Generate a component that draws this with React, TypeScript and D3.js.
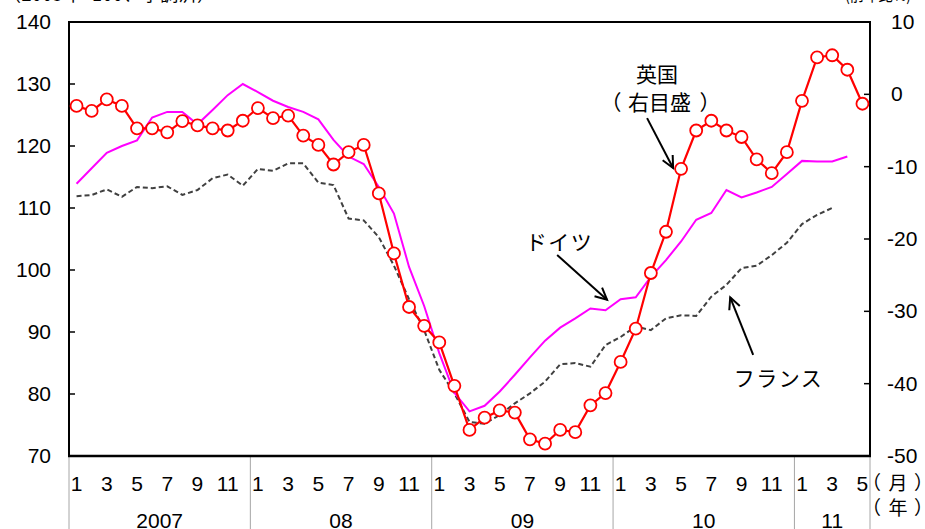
import React from 'react';
import * as d3 from 'd3';

const N_MONTHS = 53;
const yearLabels = ['2007', '08', '09', '10', '11'];
const yearStarts = [0, 12, 24, 36, 48];
const leftTicks = [70, 80, 90, 100, 110, 120, 130, 140];
const rightTicks = [-50, -40, -30, -20, -10, 0, 10];

// 英国 (右目盛, 前年比%)
const uk: number[] = [
  -1.6, -2.3, -0.7, -1.6, -4.7, -4.7, -5.25, -3.7, -4.3, -4.7, -5.0, -3.65,
  -1.9, -3.3, -2.95, -5.7, -7.0, -9.7, -8.0, -7.0, -13.7, -22.0, -29.4, -32.0,
  -34.3, -40.3, -46.4, -44.7, -43.7, -44.0, -47.7, -48.3, -46.4, -46.7, -43.0, -41.3,
  -37.0, -32.4, -24.7, -19.0, -10.3, -5.0, -3.65, -5.0, -5.9, -9.0, -10.9, -8.0,
  -0.9, 5.1, 5.4, 3.4, -1.3,
];

// ドイツ (左目盛)
const germany: (number | null)[] = [
  113.9, 116.4, 118.9, 120.0, 120.9, 124.6, 125.5, 125.5, 123.5, 125.8, 128.2, 130.0,
  128.7, 127.3, 126.3, 125.5, 124.3, 121.0, 118.3, 117.1, 113.4, 109.1, 100.5, 94.2,
  86.6, 80.2, 77.2, 78.1, 80.4, 83.1, 85.9, 88.6, 90.7, 92.2, 93.8, 93.5,
  95.3, 95.6, 98.9, 101.6, 104.6, 108.1, 109.2, 112.9, 111.7, 112.5, 113.4, 115.5,
  117.6, 117.5, 117.5, 118.3, null,
];

// フランス (左目盛)
const france: (number | null)[] = [
  111.9, 112.1, 113.0, 111.8, 113.4, 113.2, 113.5, 112.1, 112.9, 114.8, 115.4, 113.6,
  116.3, 116.0, 117.2, 117.2, 114.1, 113.7, 108.3, 108.0, 105.3, 100.7, 95.3, 90.3,
  83.9, 80.1, 75.5, 75.2, 76.6, 78.5, 80.1, 82.0, 84.8, 85.0, 84.4, 87.9,
  89.2, 90.9, 90.3, 92.2, 92.7, 92.6, 95.7, 97.6, 100.3, 100.7, 102.4, 104.4,
  107.4, 108.9, 110.0, null, null,
];

// annotations in (month index, left-axis value) coordinates
const labels = [
  { text: '英国', i: 38.4, v: 130.4, len: 0 },
  { text: 'ドイツ', i: 31.9, v: 103.2, len: 66 },
  { text: 'フランス', i: 46.4, v: 81.3, len: 88 },
];
const arrows = [
  { i0: 37.75, v0: 124.5, i1: 39.47, v1: 116.45 },
  { i0: 31.8, v0: 102.4, i1: 35.1, v1: 95.2 },
  { i0: 44.77, v0: 86.3, i1: 43.25, v1: 95.6 },
];

const NUM_FONT = '"Liberation Sans", Arial, sans-serif';
const JP_FONT = '"Noto Sans CJK JP", "Liberation Sans", sans-serif';

export default function App() {
  const W = 925, H = 529;
  const L = 69, R = 870, T = 22, B = 456;
  const x = d3.scaleBand<number>().domain(d3.range(N_MONTHS)).range([L, R]).padding(0);
  const cx = (i: number) => (x(i) ?? L) + x.bandwidth() / 2;
  const cxf = (i: number) => L + x.bandwidth() * (i + 0.5);
  const yL = d3.scaleLinear().domain([70, 140]).range([B, T]);
  const yR = d3.scaleLinear().domain([-50, 10]).range([B, T]);

  const lineL = d3.line<number | null>()
    .defined((d) => d != null)
    .x((_, i) => cx(i))
    .y((d) => yL(d as number));
  const lineR = d3.line<number>()
    .x((_, i) => cx(i))
    .y((d) => yR(d));

  const dividers = [...yearStarts, N_MONTHS].map((s) => (s === N_MONTHS ? R : (x(s) as number)));

  const arrowHead = (x0: number, y0: number, x1: number, y1: number) => {
    const a = Math.atan2(y1 - y0, x1 - x0);
    const len = 13, sp = 0.45;
    const p1 = [x1 - len * Math.cos(a - sp), y1 - len * Math.sin(a - sp)];
    const p2 = [x1 - len * Math.cos(a + sp), y1 - len * Math.sin(a + sp)];
    return `M${p1[0]},${p1[1]}L${x1},${y1}L${p2[0]},${p2[1]}`;
  };

  const subX = cxf(38.7);
  const subY = yL(125.8);

  return (
    <svg width={W} height={H} style={{ position: 'absolute', left: 0, top: 0, background: '#fff' }}>
      {/* cropped unit labels at the top */}
      <text x={3} y={1} fontFamily={JP_FONT} fontSize={18} fill="#000" textLength={212} lengthAdjust="spacing">（2005年=100、季調済）</text>
      <text x={845} y={1} fontFamily={JP_FONT} fontSize={18} fill="#000" textLength={66} lengthAdjust="spacingAndGlyphs">(前年比%)</text>

      {/* lower divider lines */}
      {dividers.map((dx, k) => (
        <line key={k} x1={dx} x2={dx} y1={B} y2={H} stroke="#a6a6a6" strokeWidth={1} />
      ))}

      {/* frame */}
      <rect x={L} y={T} width={R - L} height={B - T} fill="none" stroke="#000" strokeWidth={2} />
      <line x1={L - 1} x2={R + 1} y1={B} y2={B} stroke="#000" strokeWidth={2.5} />

      {/* left ticks */}
      {leftTicks.map((t) => (
        <g key={'l' + t}>
          <line x1={L} x2={L + 6} y1={yL(t)} y2={yL(t)} stroke="#000" strokeWidth={1.5} />
          <text x={51} y={yL(t) + 7} textAnchor="end" fontFamily={NUM_FONT} fontSize={21} fill="#000">{t}</text>
        </g>
      ))}
      {/* right ticks */}
      {rightTicks.map((t) => (
        <g key={'r' + t}>
          <line x1={R - 6} x2={R} y1={yR(t)} y2={yR(t)} stroke="#000" strokeWidth={1.5} />
          <text x={t < 0 ? 887 : 891} y={yR(t) + 7} textAnchor="start" fontFamily={NUM_FONT} fontSize={21} fill="#000">{t}</text>
        </g>
      ))}

      {/* month labels */}
      {d3.range(N_MONTHS).filter((i) => (i % 12) % 2 === 0).map((i) => (
        <text key={'m' + i} x={cx(i)} y={491} textAnchor="middle" fontFamily={NUM_FONT} fontSize={21} fill="#000">
          {(i % 12) + 1}
        </text>
      ))}
      {/* year labels */}
      {yearLabels.map((yl, k) => {
        const a = dividers[k], b = dividers[k + 1];
        return (
          <text key={'y' + yl} x={(a + b) / 2} y={528} textAnchor="middle" fontFamily={NUM_FONT} fontSize={21} fill="#000">{yl}</text>
        );
      })}
      <g fontFamily={JP_FONT} fontSize={19} fill="#000">
        <text x={862} y={490}>（</text>
        <text x={898} y={490} textAnchor="middle">月</text>
        <text x={914} y={490}>）</text>
        <text x={862} y={515}>（</text>
        <text x={898} y={515} textAnchor="middle">年</text>
        <text x={914} y={515}>）</text>
      </g>

      {/* series */}
      <path d={lineL(france) ?? ''} fill="none" stroke="#404040" strokeWidth={2} strokeDasharray="5,3" />
      <path d={lineL(germany) ?? ''} fill="none" stroke="#ff00ff" strokeWidth={2} />
      <path d={lineR(uk) ?? ''} fill="none" stroke="#ff0000" strokeWidth={2.2} />
      {uk.map((d, i) => (
        <circle key={'c' + i} cx={cx(i)} cy={yR(d)} r={6} fill="#fff" stroke="#ff0000" strokeWidth={1.8} />
      ))}

      {/* annotations */}
      {labels.map((l) => (
        <text
          key={l.text}
          x={l.len ? cxf(l.i) - l.len / 2 : cxf(l.i)}
          y={yL(l.v)}
          textAnchor={l.len ? 'start' : 'middle'}
          fontFamily={JP_FONT}
          fontSize={21}
          fill="#000"
          {...(l.len ? { textLength: l.len, lengthAdjust: 'spacing' } : {})}
        >
          {l.text}
        </text>
      ))}
      <g fontFamily={JP_FONT} fontSize={21} fill="#000">
        <text x={subX - 61} y={subY}>（</text>
        <text x={subX - 2} y={subY} textAnchor="middle">右目盛</text>
        <text x={subX + 38} y={subY}>）</text>
      </g>
      {arrows.map((a, k) => {
        const x0 = cxf(a.i0), y0 = yL(a.v0), x1 = cxf(a.i1), y1 = yL(a.v1);
        return (
          <g key={'a' + k}>
            <line x1={x0} y1={y0} x2={x1} y2={y1} stroke="#000" strokeWidth={2} />
            <path d={arrowHead(x0, y0, x1, y1)} fill="none" stroke="#000" strokeWidth={2} />
          </g>
        );
      })}
    </svg>
  );
}
